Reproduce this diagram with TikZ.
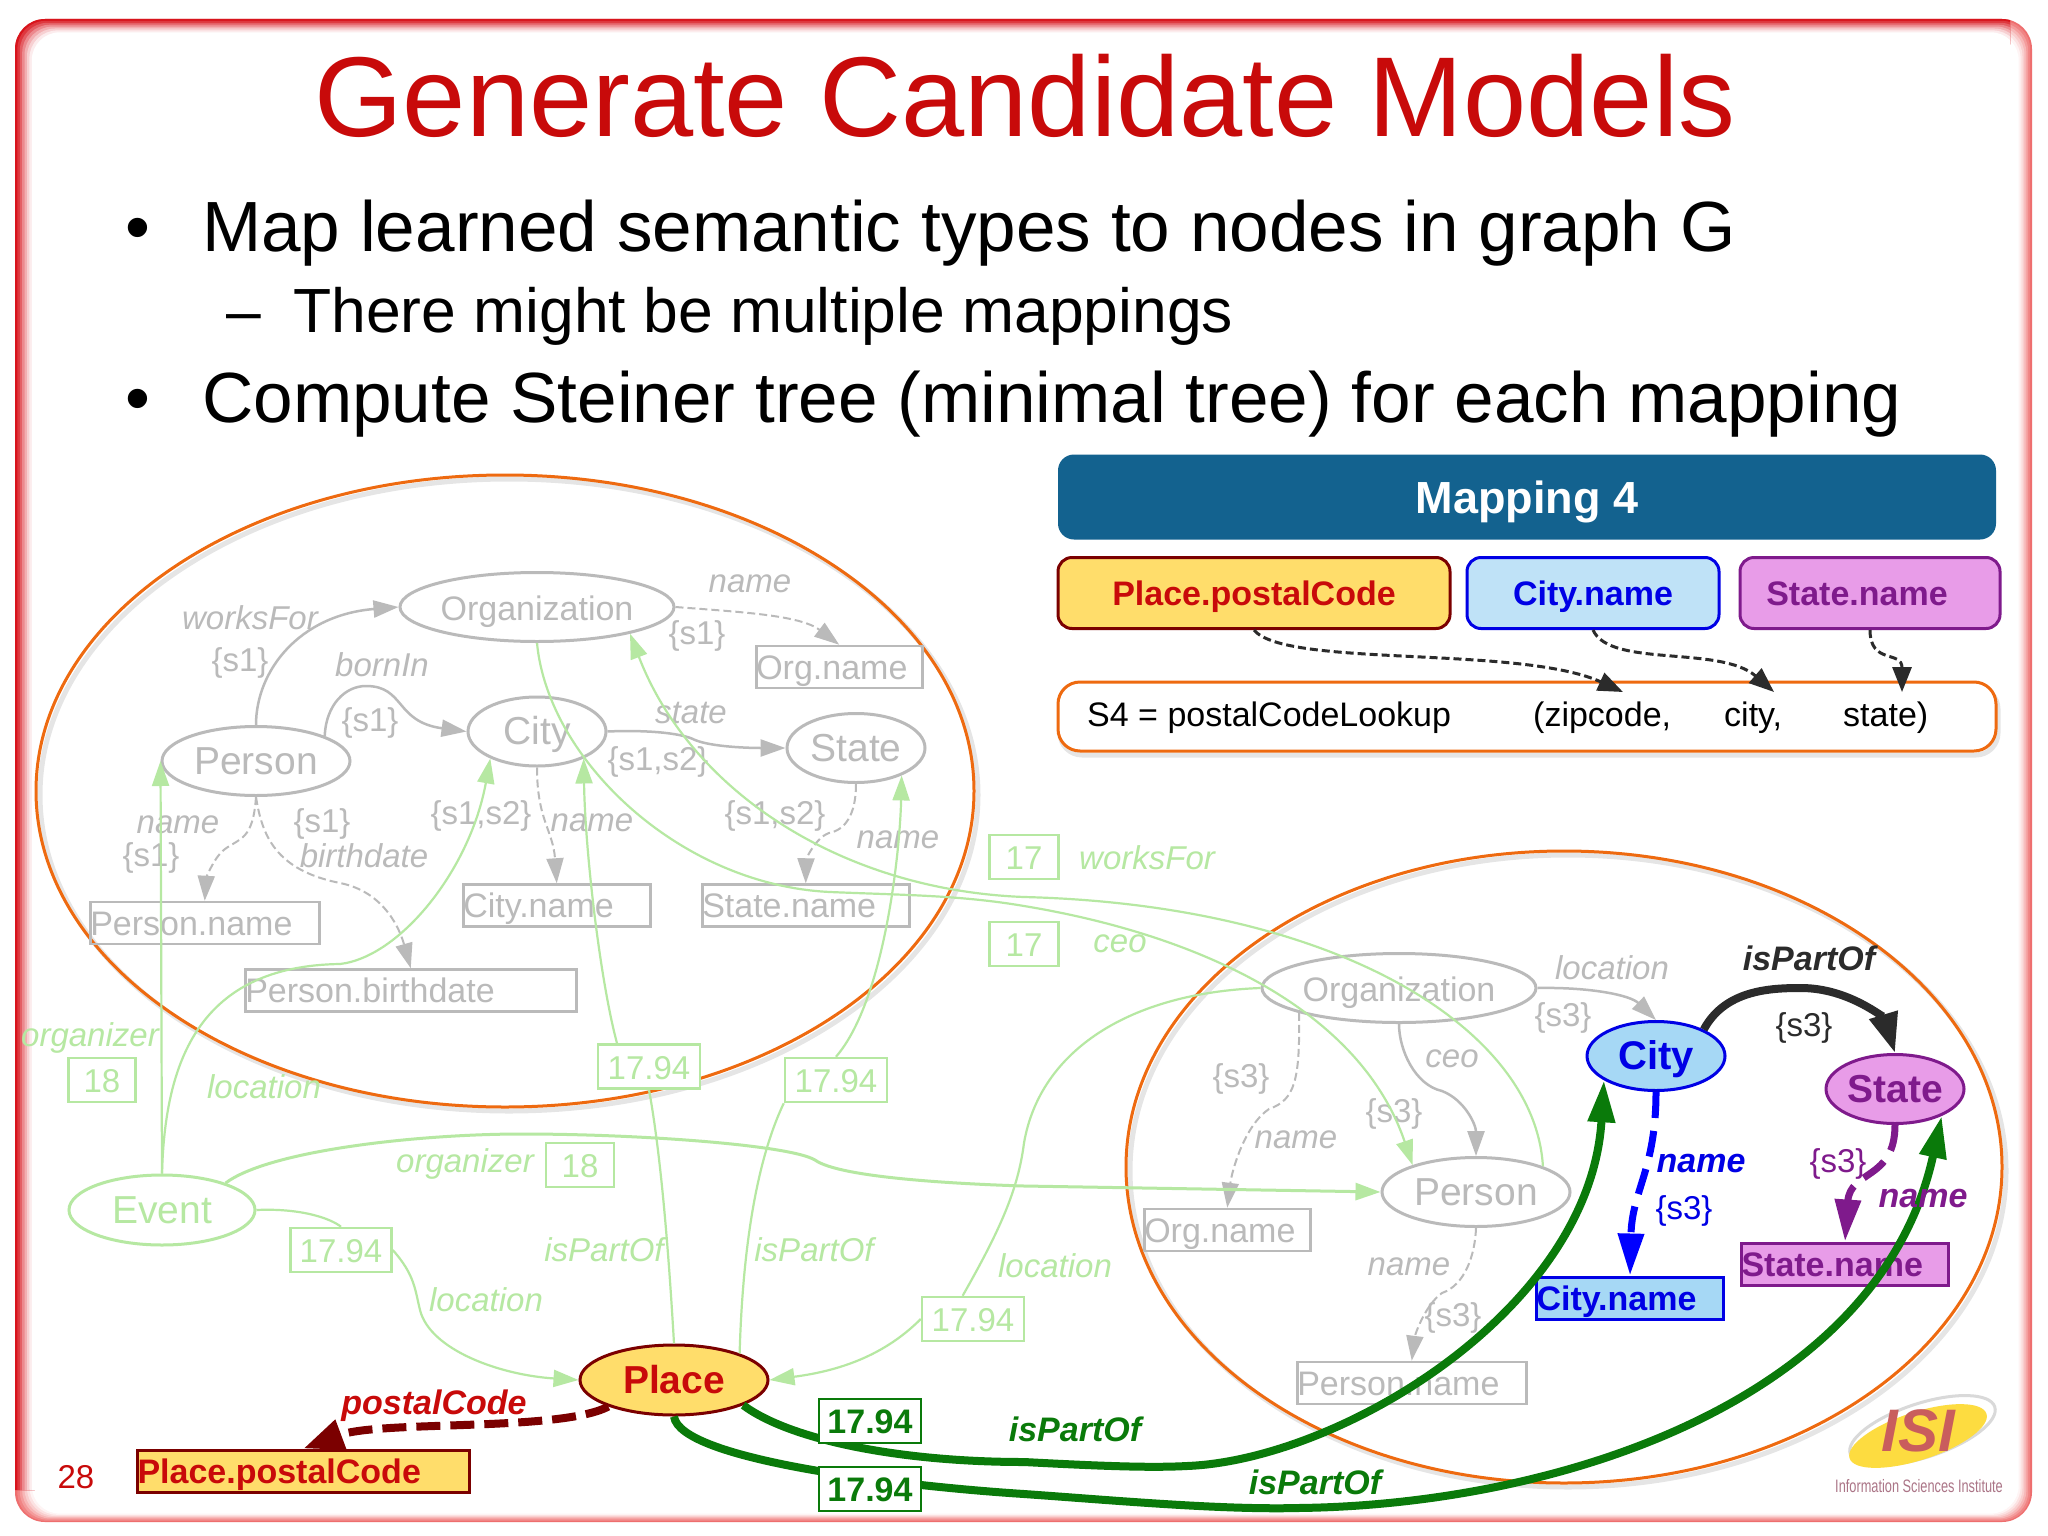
\documentclass[tikz,border=0pt]{standalone}
\usepackage{fontspec}
\setmainfont{Liberation Sans}
\usetikzlibrary{arrows.meta,shapes.geometric,positioning}
\newcommand{\fsz}[1]{\fontsize{#1pt}{#1pt}\selectfont}
\definecolor{slidered}{HTML}{C80A0A}
\definecolor{framered}{HTML}{D8141C}
\definecolor{framepink}{HTML}{EE6E6E}
\definecolor{ringorange}{HTML}{EE6A10}
\definecolor{headblue}{HTML}{13628F}
\definecolor{greyish}{HTML}{BABABA}
\definecolor{greentint}{HTML}{B6E8A2}
\definecolor{darkgreen}{HTML}{0A7A0A}
\definecolor{placefill}{HTML}{FFDD6B}
\definecolor{placeline}{HTML}{7B0000}
\definecolor{cityfill}{HTML}{A6D8F5}
\definecolor{mapcity}{HTML}{BFE2F7}
\definecolor{statefill}{HTML}{E89CE8}
\definecolor{stateline}{HTML}{7F1A8C}
\definecolor{darkline}{HTML}{2B2B2B}
\tikzset{
  txt/.style={inner sep=0pt,font=\fsz{33}},
  bigtxt/.style={inner sep=0pt,anchor=base west,font=\fsz{71.1},text=black},
  oval/.style={ellipse,draw,inner sep=0pt,line width=3pt,text height=26pt,text depth=0pt},
  grayoval/.style={oval,greyish,text=greyish},
  greyedge/.style={greyish,line width=2.5pt,-{Triangle[length=25pt,width=17pt]}},
  greydash/.style={greyedge,line width=2pt,dashed,dash pattern=on 8pt off 4pt},
  greenedge/.style={greentint,line width=2.2pt,-{Triangle[length=25pt,width=17pt]}},
  greenplain/.style={greentint,line width=2.2pt},
  greybox/.style={draw=greyish,line width=2.5pt,inner xsep=0pt,inner ysep=0pt,anchor=west,
    text height=26pt,text depth=2pt,minimum height=42pt,align=left,text=greyish,font=\fsz{34}},
  treebox/.style={line width=3pt,inner xsep=0pt,inner ysep=0pt,anchor=west,
    text height=26pt,text depth=2pt,minimum height=42pt,align=left,font=\fsz{34}\bfseries},
  costbox/.style={draw=greentint,fill=white,line width=2.5pt,inner sep=0pt,minimum height=44pt,
    text height=25pt,text depth=0pt,text=greentint,font=\fsz{33}},
  darkcost/.style={draw=darkgreen,fill=white,line width=2.5pt,inner sep=0pt,minimum width=102pt,
    minimum height=44pt,text height=25pt,text depth=0pt,text=darkgreen,font=\fsz{34}\bfseries},
  thickgreen/.style={darkgreen,line width=8pt,-{Triangle[length=42pt,width=26pt]}},
  mapbox/.style={rounded corners=14pt,line width=3pt,inner sep=0pt,minimum height=71pt,
    text height=25pt,text depth=0pt,font=\fsz{34}\bfseries},
  mapdash/.style={darkline,line width=3pt,dashed,dash pattern=on 8pt off 4pt,-{Triangle[length=25pt,width=19pt]}},
  ringline/.style={ringorange,line width=3pt},
  ringshade/.style={black,opacity=.10,line width=5pt}
}
\begin{document}
\begin{tikzpicture}[x=1pt,y=-1pt]
\useasboundingbox (0,0) rectangle (2048,1536);
\fill[white] (0,0) rectangle (2048,1536);
% slide frame
\fill[framepink,rounded corners=30pt] (15,19) rectangle (2032,1522);
\foreach \i/\c in {1/85,2/68,3/50,4/34,5/20,6/8,7/0}
\fill[framepink!\c!white,rounded corners=28pt] (15+2.4*\i,19+1.9*\i) rectangle (2032-1.9*\i,1522-1.2*\i);
\begin{scope}
\clip (0,0) rectangle (2010,60) (0,0) rectangle (60,1490);
\fill[framered,rounded corners=30pt] (15,19) rectangle (2032,1522);
\foreach \i/\c in {1/85,2/68,3/50,4/34,5/20,6/8,7/0}
\fill[framered!\c!white,rounded corners=28pt] (15+2.4*\i,19+1.9*\i) rectangle (2032-1.9*\i,1522-1.2*\i);
\end{scope}
\fill[white,rounded corners=28pt] (15+2.4*8,19+1.9*8) rectangle (2032-1.9*8,1522-1.2*8);
% title and bullets
\node[inner sep=0pt,anchor=base,font=\fsz{113.6},text=slidered] (title) at (1025,137) {Generate Candidate Models};
\node[bigtxt] (dotone) at (125,251) {•};
\node[bigtxt] (bulone) at (202,251) {Map learned semantic types to nodes in graph G};
\node[bigtxt,font=\fsz{62.4}] (dash) at (226,332) {–};
\node[bigtxt,font=\fsz{62.4}] (subone) at (293,332) {There might be multiple mappings};
\node[bigtxt] (dottwo) at (125,422) {•};
\node[bigtxt] (bultwo) at (202,422) {Compute Steiner tree (minimal tree) for each mapping};
% the two source models
\draw[ringshade] (509,795) ellipse [x radius=469, y radius=316];
\draw[ringshade] (1568,1171) ellipse [x radius=438, y radius=316];
\draw[ringline] (505,791) ellipse [x radius=469, y radius=316];
\draw[ringline] (1564,1167) ellipse [x radius=438, y radius=316];
% mapping table
\node[fill=headblue,rounded corners=16pt,inner sep=0pt,minimum width=938pt,minimum height=85pt,
  text height=32pt,text depth=0pt,text=white,font=\fsz{45}\bfseries] (maphead) at (1527,497) {Mapping 4};
\node[mapbox,draw=placeline,fill=placefill,text=slidered,minimum width=392pt] (mapplace) at (1254,593) {Place.postalCode};
\node[mapbox,draw=blue!90!black,fill=mapcity,text=blue!90!black,minimum width=252pt] (mapcity) at (1593,593) {City.name};
\node[mapbox,draw=stateline,fill=statefill,text=stateline,minimum width=260pt] (mapstate) at (1870,593) {State.name\kern26pt};
\draw[rounded corners=22pt,ringshade] (1060,687) rectangle (1998,755);
\node[draw=ringorange,fill=white,rounded corners=22pt,line width=3pt,inner sep=0pt,minimum width=938pt,minimum height=69pt] (lookup) at (1527,716.5) {};
\node[txt,anchor=base west,font=\fsz{34}] (sfour) at (1087,726) {S4 = postalCodeLookup};
\node[txt,anchor=base west,font=\fsz{34}] (argzip) at (1533,726) {(zipcode,};
\node[txt,anchor=base west,font=\fsz{34}] (argcity) at (1724,726) {city,};
\node[txt,anchor=base west,font=\fsz{34}] (argstate) at (1843,726) {state)};
\coordinate (tipzip) at (1623,692);
\coordinate (tipcity) at (1774,692);
\coordinate (tipstate) at (1902,692);
\draw[mapdash] (mapplace.south) .. controls (1285,668) and (1520,645) .. (tipzip);
\draw[mapdash] (mapcity.south) .. controls (1610,668) and (1720,645) .. (tipcity);
\draw[mapdash] (mapstate.south) .. controls (1870,665) and (1902,650) .. (tipstate);
% upper graph, grey
\node[grayoval,minimum width=274pt,minimum height=69pt,font=\fsz{34}] (orga) at (537,607) {Organization};
\node[grayoval,minimum width=188pt,minimum height=69pt,font=\fsz{39}] (persa) at (256,761) {Person};
\node[grayoval,minimum width=138pt,minimum height=69pt,font=\fsz{39}] (citya) at (537,731.5) {City};
\node[grayoval,minimum width=138pt,minimum height=69pt,font=\fsz{39}] (statea) at (856,748) {State};
\node[greybox,text width=166pt] (orgnamea) at (755,667) {Org.name};
\node[greybox,text width=229pt] (persnamea) at (89,923) {Person.name};
\node[greybox,text width=187pt] (citynamea) at (462,905.5) {City.name};
\node[greybox,text width=207pt] (statenamea) at (701,905.5) {State.name};
\node[greybox,text width=331pt] (birth) at (244,990.5) {Person.birthdate};
\draw[greyedge] (persa.north) .. controls (256,670) and (300,615) .. (orga.west);
\draw[greyedge] (persa.20) .. controls (326,705) and (345,686) .. (366,686) .. controls (405,686) and (395,722) .. (citya.west);
\draw[greyedge] (citya.east) .. controls (640,730) and (680,732) .. (695,740) .. controls (712,747) and (750,748) .. (statea.west);
\draw[greydash] (orga.east) .. controls (740,612) and (800,615) .. (orgnamea.north);
\draw[greydash] (persa.south) .. controls (253,840) and (240,838) .. (225,849) .. controls (213,858) and (206,880) .. (persnamea.north);
\draw[greydash] (persa.south) .. controls (262,835) and (275,870) .. (340,883) .. controls (385,892) and (400,930) .. (birth.north);
\draw[greydash] (citya.south) .. controls (537,820) and (553,830) .. (citynamea.north);
\draw[greydash] (statea.south) .. controls (856,815) and (845,830) .. (829,833) .. controls (815,838) and (806,860) .. (statenamea.north);
\begin{scope}[every node/.append style={txt,text=greyish}]
\node[font=\fsz{33}\itshape] (lworks) at (250,618) {worksFor};
\node[font=\fsz{33}\itshape] (lnamea) at (750,584) {name};
\node (sa) at (240,663) {\{s1\}};
\node[font=\fsz{33}\itshape] (lborn) at (382,665) {bornIn};
\node (sb) at (697,636) {\{s1\}};
\node (sc) at (370,723) {\{s1\}};
\node[font=\fsz{33}\itshape] (lstate) at (691,713) {state};
\node (sd) at (658,762) {\{s1,s2\}};
\node[font=\fsz{33}\itshape] (lnameb) at (178,825) {name};
\node (se) at (151,858) {\{s1\}};
\node (sf) at (322,824) {\{s1\}};
\node[font=\fsz{33}\itshape] (lbirth) at (364,856) {birthdate};
\node (sg) at (481,816) {\{s1,s2\}};
\node[font=\fsz{33}\itshape] (lnamec) at (592,823) {name};
\node (sh) at (775,816) {\{s1,s2\}};
\node[font=\fsz{33}\itshape] (lnamed) at (898,840) {name};
\end{scope}
% lower graph, grey
\node[grayoval,minimum width=274pt,minimum height=69pt,font=\fsz{34}] (orgb) at (1399,988) {Organization};
\node[grayoval,minimum width=188pt,minimum height=69pt,font=\fsz{39}] (persb) at (1476,1192) {Person};
\node[greybox,text width=166pt] (orgnameb) at (1143,1230) {Org.name};
\node[greybox,text width=229pt] (persnameb) at (1296,1383) {Person.name};
\begin{scope}[every node/.append style={txt,text=greyish}]
\node[font=\fsz{33}\itshape] (lloc) at (1612,968) {location};
\node (ta) at (1563,1018) {\{s3\}};
\node (tb) at (1241,1079) {\{s3\}};
\node[font=\fsz{33}\itshape] (lnamee) at (1296,1140) {name};
\node[font=\fsz{33}\itshape] (lceo) at (1452,1059) {ceo};
\node (tc) at (1394,1114) {\{s3\}};
\node[font=\fsz{33}\itshape] (lnamef) at (1409,1267) {name};
\node (td) at (1453,1318) {\{s3\}};
\end{scope}
% nodes in colour
\node[oval,draw=blue!90!black,fill=cityfill,text=blue!90!black,minimum width=138pt,minimum height=69pt,font=\fsz{40}\bfseries] (cityb) at (1656,1056) {City};
\node[oval,draw=stateline,fill=statefill,text=stateline,minimum width=138pt,minimum height=69pt,font=\fsz{39}\bfseries] (stateb) at (1895,1089) {State};
\draw[greyedge] (orgb.east) .. controls (1590,987) and (1630,995) .. (cityb.north);
\draw[greyedge] (orgb.south) .. controls (1399,1050) and (1415,1085) .. (1442,1091) .. controls (1465,1100) and (1476,1125) .. (persb.north);
\draw[greydash] (orgb.-166) .. controls (1300,1080) and (1295,1100) .. (1269,1109) .. controls (1245,1125) and (1232,1170) .. (orgnameb.north);
\draw[greydash] (persb.south) .. controls (1475,1255) and (1465,1285) .. (1442,1293) .. controls (1425,1305) and (1415,1335) .. (persnameb.north);
% green links
\node[oval,greentint,text=greentint,minimum width=186pt,minimum height=70pt,font=\fsz{39}] (event) at (162,1210) {Event};
\node[oval,draw=placeline,fill=placefill,text=slidered,minimum width=188pt,minimum height=70pt,font=\fsz{39}\bfseries] (place) at (674,1380) {Place};
\node[costbox,minimum width=102pt] (costa) at (649,1066.5) {17.94};
\node[costbox,minimum width=102pt] (costb) at (836,1080) {17.94};
\node[costbox,minimum width=101pt] (costc) at (341,1250) {17.94};
\node[costbox,minimum width=102pt] (costd) at (973,1319) {17.94};
\node[costbox,minimum width=67pt] (coste) at (102,1080) {18};
\node[costbox,minimum width=68pt] (costf) at (580,1165) {18};
\node[costbox,minimum width=69pt] (costg) at (1024,857) {17};
\node[costbox,minimum width=69pt] (costh) at (1024,944) {17};
\draw[greenedge] (event.north) -- (persa.west);
\draw[greenedge] (event.north) .. controls (165,1060) and (200,966) .. (340,964) .. controls (400,957) and (470,870) .. (citya.-150);
\draw[greenedge] (costa.144) .. controls (600,980) and (585,850) .. (citya.-30);
\draw[greenedge] (costb.north) .. controls (885,1000) and (900,850) .. (statea.-31);
\draw[greenplain] (place.north) .. controls (668,1240) and (660,1150) .. (costa.south);
\draw[greenplain] (place.22) .. controls (742,1270) and (752,1170) .. (costb.south west);
\draw[greenplain] (event.east) .. controls (300,1208) and (330,1218) .. (costc.north);
\draw[greenedge] (costc.east) .. controls (415,1275) and (415,1290) .. (420,1310) .. controls (430,1350) and (500,1375) .. (place.west);
\draw[greenedge] (costd.west) .. controls (880,1360) and (830,1372) .. (place.east);
\draw[greenplain] (costd.114) .. controls (1000,1230) and (1018,1190) .. (1024,1143) .. controls (1040,1050) and (1130,993) .. (orgb.west);
\draw[greenedge,line width=3pt] (event.23) .. controls (270,1150) and (420,1134) .. (522,1134) .. controls (640,1134) and (790,1145) .. (815,1160) .. controls (840,1178) and (960,1184) .. (1024,1186) -- (persb.west);
\draw[greenedge] (orga.south) .. controls (548,760) and (680,885) .. (830,892) .. controls (900,895) and (960,895) .. (1024,906) .. controls (1200,935) and (1360,1010) .. (persb.157);
\draw[greenedge] (persb.21) .. controls (1535,1030) and (1340,905) .. (1024,897) .. controls (840,890) and (690,790) .. (orga.-16);
\begin{scope}[every node/.append style={txt,text=greentint,font=\fsz{33}\itshape}]
\node (lorga) at (90,1038) {organizer};
\node (lloca) at (264,1087) {location};
\node (lorgb) at (465,1164) {organizer};
\node (llocb) at (486,1300) {location};
\node (lparta) at (604,1250) {isPartOf};
\node (lpartb) at (814,1250) {isPartOf};
\node (llocc) at (1055,1266) {location};
\node (lworkb) at (1147,858) {worksFor};
\node (lceob) at (1120,944) {ceo};
\end{scope}
% the chosen tree
\node[treebox,draw=placeline,fill=placefill,text=slidered,text width=332pt] (placecode) at (136,1471) {Place.postalCode};
\node[treebox,draw=blue!90!black,fill=cityfill,text=blue!90!black,text width=187pt] (citycode) at (1535,1298) {City.name};
\node[treebox,draw=stateline,fill=statefill,text=stateline,text width=207pt] (statecode) at (1740,1264) {State.name};
\draw[darkline,line width=8pt,-{Triangle[length=40pt,width=28pt]}] (cityb.29) .. controls (1725,990) and (1770,988) .. (1801,988) .. controls (1850,988) and (1885,1020) .. (stateb.north);
\draw[blue,line width=7pt,dash pattern=on 26pt off 13pt,-{Triangle[length=42pt,width=25pt]}] (cityb.south) .. controls (1656,1170) and (1632,1190) .. (citycode.north);
\draw[stateline,line width=7pt,dash pattern=on 26pt off 13pt,-{Triangle[length=42pt,width=25pt]}] (stateb.south) .. controls (1895,1180) and (1850,1170) .. (statecode.north);
\draw[placeline,line width=8pt,dash pattern=on 24pt off 10pt,-{Triangle[length=40pt,width=30pt]}] (place.-158) .. controls (560,1432) and (380,1420) .. (placecode.north);
\draw[thickgreen] (place.-20) .. controls (790,1440) and (900,1462) .. (1024,1462) .. controls (1100,1466) and (1150,1468) .. (1187,1466) .. controls (1340,1460) and (1590,1310) .. (cityb.-155);
\draw[thickgreen] (place.south) .. controls (680,1460) and (900,1486) .. (1024,1494) .. controls (1110,1500) and (1220,1510) .. (1298,1508) .. controls (1560,1505) and (1880,1400) .. (stateb.-30);
\begin{scope}[every node/.append style={txt}]
\node[darkcost] (costi) at (870,1421) {17.94};
\node[darkcost] (costj) at (870,1489) {17.94};
\node[font=\fsz{34}\bfseries\itshape,text=slidered] (lpostal) at (434,1406) {postalCode};
\node[font=\fsz{34}\bfseries\itshape,text=darkline] (lpartc) at (1809,958) {isPartOf};
\node[font=\fsz{33},text=darkline] (tpart) at (1804,1028) {\{s3\}};
\node[font=\fsz{34}\bfseries\itshape,text=blue!90!black] (lnameg) at (1701,1164) {name};
\node[font=\fsz{33},text=blue!90!black] (tblue) at (1684,1211) {\{s3\}};
\node[font=\fsz{33},text=stateline] (tpurp) at (1838,1164) {\{s3\}};
\node[font=\fsz{34}\bfseries\itshape,text=stateline] (lnameh) at (1923,1199) {name};
\node[font=\fsz{34}\bfseries\itshape,text=darkgreen] (lpartd) at (1075,1429) {isPartOf};
\node[font=\fsz{34}\bfseries\itshape,text=darkgreen] (lparte) at (1315,1482) {isPartOf};
\node[font=\fsz{33},text=slidered] (pagenum) at (76,1477) {28};
\end{scope}
% logo
\begin{scope}[rotate around={18:(1918,1436)}]
\draw[gray!30,line width=3pt] (1924,1432) ellipse [x radius=76, y radius=27];
\fill[yellow!70!orange!75!white] (1918,1436) ellipse [x radius=72, y radius=24];
\end{scope}
\node[txt,font=\fsz{60}\bfseries\itshape,text=red!50!gray!85!white] (logo) at (1918,1431) {ISI};
\node[txt,font=\fsz{18},text=purple!35!gray!80!white] (logotext) at (1919,1486) {\scalebox{.71}[1]{Information Sciences Institute}};
\end{tikzpicture}
\end{document}
